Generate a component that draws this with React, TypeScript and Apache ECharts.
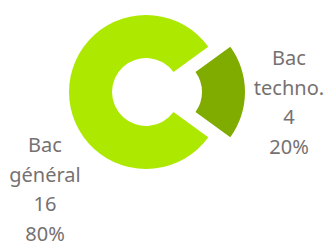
import React, { useEffect, useRef } from "react";
import * as echarts from "echarts";

const categories = ["Bac techno.", "Bac général"];
const values = [4, 16];
const colors = ["#80ac00", "#ade800"];

export default function App() {
  const ref = useRef<HTMLDivElement>(null);
  useEffect(() => {
    document.body.style.margin = "0";
    const chart = echarts.init(ref.current!, null, { renderer: "svg" });
    const total = values.reduce((a, b) => a + b, 0);
    const labelPos = [
      { x: 289, y: 102 },
      { x: 45, y: 189 },
    ];
    chart.setOption({
      animation: false,
      graphic: categories.map((c, i) => ({
        type: "text",
        x: labelPos[i].x,
        y: labelPos[i].y,
        style: {
          text:
            c.split(" ").join("\n") +
            "\n" +
            values[i] +
            "\n" +
            Math.round((values[i] / total) * 100) +
            "%",
          fill: "#767171",
          fontFamily: "Noto Sans",
          fontSize: 20,
          lineHeight: 29.5,
          align: "center",
          verticalAlign: "middle",
        },
      })),
      series: [
        {
          type: "pie",
          center: [146, 92],
          radius: [34, 77],
          startAngle: 36,
          clockwise: true,
          selectedMode: "single",
          selectedOffset: 22,
          label: { show: false },
          labelLine: { show: false },
          emphasis: { disabled: true },
          data: categories.map((c, i) => ({
            name: c,
            value: values[i],
            selected: i === 0,
            itemStyle: { color: colors[i] },
          })),
        },
      ],
    });
    return () => chart.dispose();
  }, []);
  return <div ref={ref} style={{ width: 327, height: 243 }} />;
}
